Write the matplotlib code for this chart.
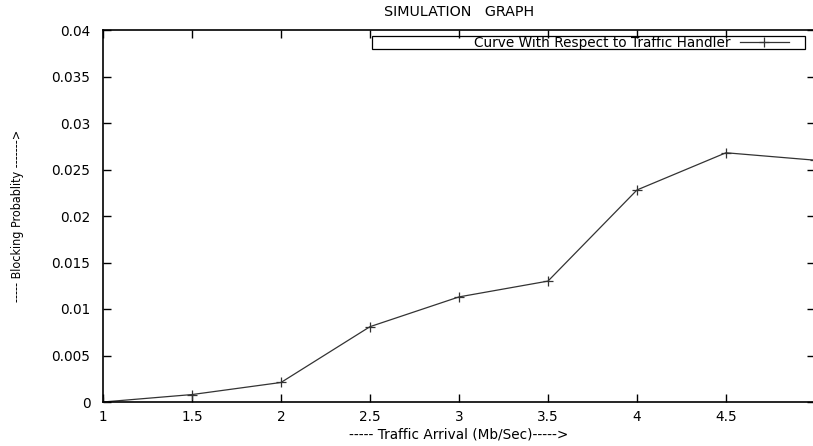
import matplotlib
matplotlib.use("Agg")
import matplotlib.pyplot as plt
from matplotlib.patches import Rectangle

# donnees
traffic_arrival = [1.0, 1.5, 2.0, 2.5, 3.0, 3.5, 4.0, 4.5, 5.0]
blocking_prob = [0.0, 0.0008, 0.0021, 0.0081, 0.0113, 0.0130, 0.0228, 0.0268, 0.0260]
x_ticks = [1, 1.5, 2, 2.5, 3, 3.5, 4, 4.5]
x_ticklabels = ["1", "1.5", "2", "2.5", "3", "3.5", "4", "4.5"]
y_ticks = [0, 0.005, 0.01, 0.015, 0.02, 0.025, 0.03, 0.035, 0.04]
y_ticklabels = ["0", "0.005", "0.01", "0.015", "0.02", "0.025", "0.03", "0.035", "0.04"]

plt.rcParams['font.family'] = ['DejaVu Sans']
FS = 9.8

fig = plt.figure(figsize=(8.13, 4.46), dpi=100)
ax = fig.add_axes([103 / 813, 44 / 446, 712 / 813, 372 / 446])

ax.plot(traffic_arrival, blocking_prob, color='#333333', linewidth=0.9,
        marker='+', markersize=7, markeredgewidth=0.9,
        label='Curve With Respect to Traffic Handler')

ax.set_xlim(1, 5)
ax.set_ylim(0, 0.04)
ax.set_xticks(x_ticks)
ax.set_xticklabels(x_ticklabels)
ax.set_yticks(y_ticks)
ax.set_yticklabels(y_ticklabels)
ax.tick_params(direction='in', top=True, right=True, length=6, width=1.0,
               labelsize=FS, colors='black')
ax.tick_params(axis='y', pad=9)
ax.tick_params(axis='x', pad=6)
for s in ax.spines.values():
    s.set_linewidth(1.2)

ax.set_title('SIMULATION   GRAPH', fontsize=10.3, pad=10)
ax.set_xlabel('----- Traffic Arrival (Mb/Sec)----->', fontsize=FS, labelpad=2)
ax.set_ylabel('----- Blocking Probablity ------->', fontsize=9, labelpad=20,
              fontstretch='condensed')

# legende style gnuplot
leg = ax.legend(loc='center right', bbox_to_anchor=(0.973, 0.966),
                markerfirst=False, frameon=False, borderpad=0,
                handlelength=3.6, handletextpad=0.7, fontsize=FS)
ax.add_patch(Rectangle((0.378, 0.949), 0.608, 0.035, transform=ax.transAxes,
                       fill=False, edgecolor='black', linewidth=0.9))

fig.savefig('out.png', dpi=100)
plt.close()
